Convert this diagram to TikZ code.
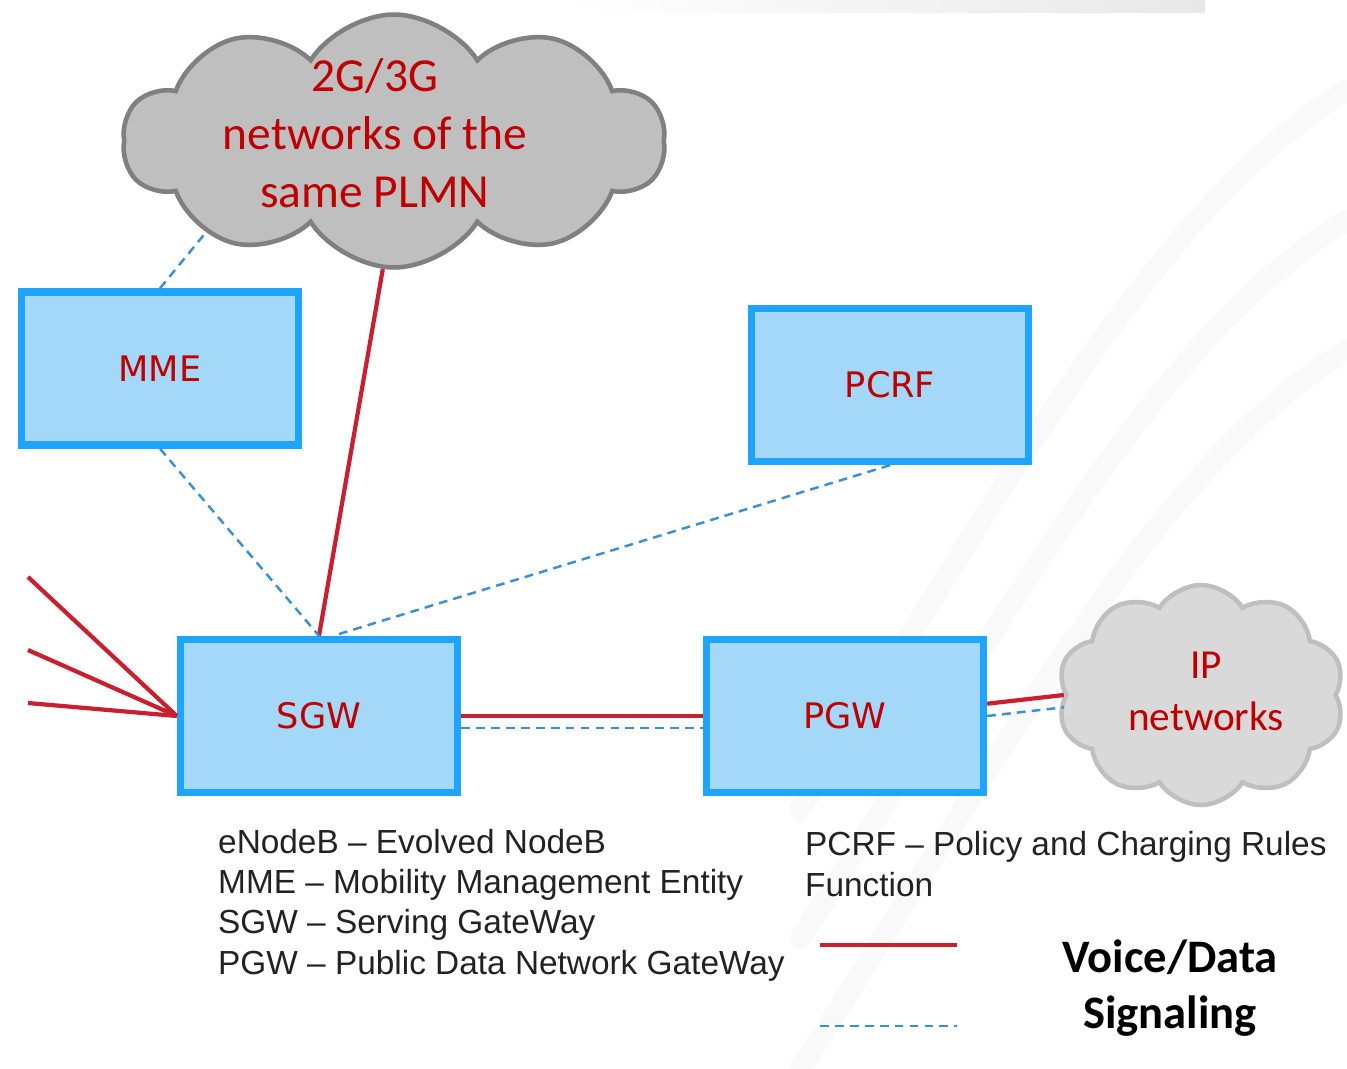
\documentclass[tikz,border=0pt]{standalone}
\usepackage{fontspec}
\setmainfont{Liberation Sans}
\newfontfamily\boxfont{DejaVu Sans}
\newfontfamily\cloudfont{Carlito}
\usetikzlibrary{shapes.symbols}
\definecolor{boxblue}{HTML}{1EA5FB}
\definecolor{boxfill}{HTML}{A3D8F9}
\definecolor{lblred}{HTML}{C00000}
\definecolor{voicered}{HTML}{C8202E}
\definecolor{sigblue}{HTML}{3A8FD6}
\definecolor{txtgray}{HTML}{222222}
\tikzset{
  box/.style={draw=boxblue, fill=boxfill, line width=4.2pt, minimum width=5.54cm,
    minimum height=3.06cm, text=lblred, font=\boxfont\fontsize{20}{24}\selectfont},
  cloudy/.style={cloud, cloud puffs=10, cloud puff arc=115, aspect=2},
  cloudtext/.style={text=lblred, align=center},
  voice/.style={draw=voicered, line width=2.4pt},
  signal/.style={draw=sigblue, line width=1.4pt, dash pattern=on 5pt off 3.5pt},
  legendtext/.style={anchor=west, text=txtgray, align=left,
    font=\fontsize{19}{23}\selectfont}
}
\begin{document}
\begin{tikzpicture}[x=0.02cm, y=-0.02cm]
        \useasboundingbox (0,0) rectangle (1347,1069);
        % Background swooshes
        \shade[left color=white, right color=gray!18] (560,0) rectangle (1205,12);
        \foreach \yy in {0,130,260} {
          \draw[gray!5, line width=12pt, line cap=round]
            (800,1069-\yy) .. controls (1000,760-\yy) and (1150,470-\yy) .. (1347,350-\yy);
        }

        % Define nodes
        \node[box] (mme) at (160,368.5) {MME};
        \node[box] (pcrf) at (890,385) {PCRF};
        \node[box] (sgw) at (319,716) {SGW};
        \node[box] (pgw) at (845,716) {PGW};
        \node[cloudy, draw=gray, fill=gray!50, line width=2.6pt,
          minimum width=10.84cm, minimum height=5.06cm] (plmn) at (394,141) {};
        \node[cloudtext, font=\cloudfont\fontsize{27}{33}\selectfont] (plmntext) at (375,133)
          {2G/3G\\networks of the\\same PLMN};
        \node[cloudy, draw=gray!50, fill=gray!30, line width=2.6pt,
          minimum width=5.74cm, minimum height=4.4cm] (ip) at (1201,695) {};
        \node[cloudtext, font=\cloudfont\fontsize{23.5}{29.5}\selectfont] (iptext) at (1206,691)
          {IP\\networks};

        % Free ends on the left
        \coordinate (enb1) at (28,577);
        \coordinate (enb2) at (28,650);
        \coordinate (enb3) at (28,703);

        % Draw links
        \draw[signal] (mme.north) -- (plmn.206);
        \draw[voice] (sgw.north) -- (plmn.265);
        \draw[signal] (mme.south) -- (sgw.north);
        \draw[signal] (pcrf.south) -- ([xshift=8pt]sgw.north);
        \draw[voice] (sgw.east) -- (pgw.west);
        \draw[signal] ([yshift=-6.8pt]sgw.east) -- ([yshift=-6.8pt]pgw.west);
        \draw[voice] ([yshift=7pt]pgw.east) -- (ip.west);
        \draw[signal] (pgw.east) -- ([yshift=-7pt]ip.west);
        \foreach \e in {enb1,enb2,enb3} {
          \draw[voice] (\e) -- (sgw.west);
        }

        % Abbreviations
        \node[legendtext] (abbr) at (212,905) {eNodeB -- Evolved NodeB\\MME -- Mobility Management Entity\\SGW -- Serving GateWay\\PGW -- Public Data Network GateWay};
        \node[legendtext] (abbrpcrf) at (799,864) {PCRF -- Policy and Charging Rules\\Function};

        % Legend
        \fill[white] (965,918) rectangle (1347,1055);
        \coordinate (vd1) at (820,945);
        \coordinate (vd2) at (957,945);
        \coordinate (sg1) at (820,1026);
        \coordinate (sg2) at (957,1026);
        \draw[voice] (vd1) -- (vd2);
        \draw[signal] (sg1) -- (sg2);
        \node[font=\cloudfont\bfseries\fontsize{26.5}{32}\selectfont, align=center] (legend) at (1170,988)
          {Voice/Data\\Signaling};
\end{tikzpicture}
\end{document}
